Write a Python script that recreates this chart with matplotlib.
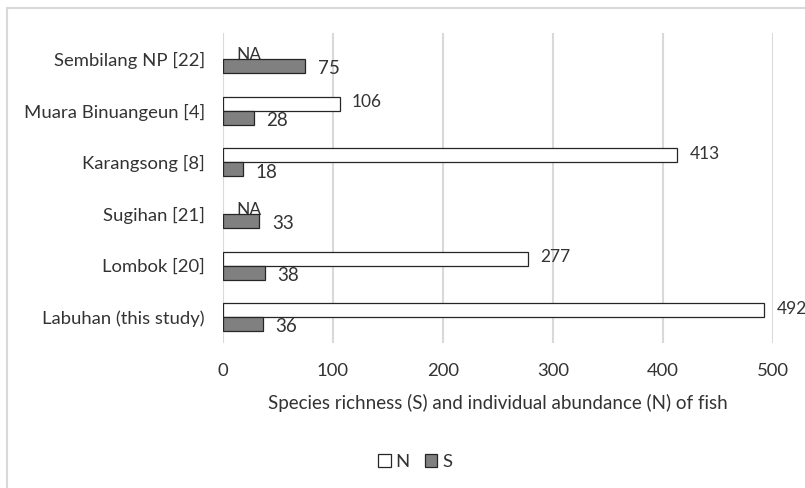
import matplotlib.pyplot as plt
import matplotlib.patches as mpatches
import numpy as np

plt.rcParams['font.family'] = ['Lato', 'DejaVu Sans']

sites = ["Labuhan (this study)", "Lombok [20]", "Sugihan [21]",
         "Karangsong [8]", "Muara Binuangeun [4]", "Sembilang NP [22]"]
abundance_n = [492, 277, np.nan, 413, 106, np.nan]
richness_s = [36, 38, 33, 18, 28, 75]

text_col = '#333333'
grid_col = '#d9d9d9'
bar_h = 0.27

fig = plt.figure(figsize=(8.05, 4.88), dpi=100)
ax = fig.add_axes([0.277, 0.297, 0.683, 0.635])

# chart frame (left/top edges visible)
fig.patches.append(mpatches.Rectangle((7 / 805, -0.1), 1.2, 1 - 8 / 488 + 0.1,
                                      transform=fig.transFigure, fill=False,
                                      edgecolor=grid_col, linewidth=1.5))

y = np.arange(len(sites))
for i, (n, s) in enumerate(zip(abundance_n, richness_s)):
    if np.isnan(n):
        ax.annotate("NA", (0, i + bar_h / 2), xytext=(10, -2), textcoords='offset points',
                    va='center', ha='left', fontsize=12.5, color=text_col)
    else:
        ax.barh(i + bar_h / 2, n, height=bar_h, color='white', edgecolor='#262626',
                linewidth=0.9, zorder=3)
        ax.annotate(f"{n:.0f}", (n, i + bar_h / 2), xytext=(9, 1), textcoords='offset points',
                    va='center', ha='left', fontsize=12.5, color=text_col,
                    annotation_clip=False)
    ax.barh(i - bar_h / 2, s, height=bar_h, color='#808080', edgecolor='#262626',
            linewidth=0.9, zorder=3)
    ax.annotate(f"{s}", (s, i - bar_h / 2), xytext=(9, -2), textcoords='offset points',
                va='center', ha='left', fontsize=13.5, color=text_col)

ax.set_xlim(0, 500)
ax.set_ylim(-0.5, len(sites) - 0.5)
ax.set_xticks(np.arange(0, 501, 100))
ax.set_yticks(y)
ax.set_yticklabels(sites)
ax.tick_params(axis='both', length=0, labelsize=13.3, colors=text_col)
ax.tick_params(axis='y', pad=13)
ax.tick_params(axis='x', pad=14)
ax.grid(axis='x', color=grid_col, linewidth=1.5, zorder=0)
ax.set_axisbelow(True)
for sp in ax.spines.values():
    sp.set_visible(False)
ax.set_xlabel("Species richness (S) and individual abundance (N) of fish",
              fontsize=13.5, color=text_col, labelpad=11)

handles = [mpatches.Patch(facecolor='white', edgecolor='#262626', linewidth=0.9, label='N'),
           mpatches.Patch(facecolor='#808080', edgecolor='#262626', linewidth=0.9, label='S')]
fig.legend(handles=handles, loc='center', bbox_to_anchor=(415 / 805, 1 - 462 / 488),
           ncol=2, frameon=False, fontsize=13.3, handlelength=0.7, handleheight=0.7,
           handletextpad=0.25, columnspacing=0.8, labelcolor=text_col)

fig.savefig('out.png', dpi=100)
